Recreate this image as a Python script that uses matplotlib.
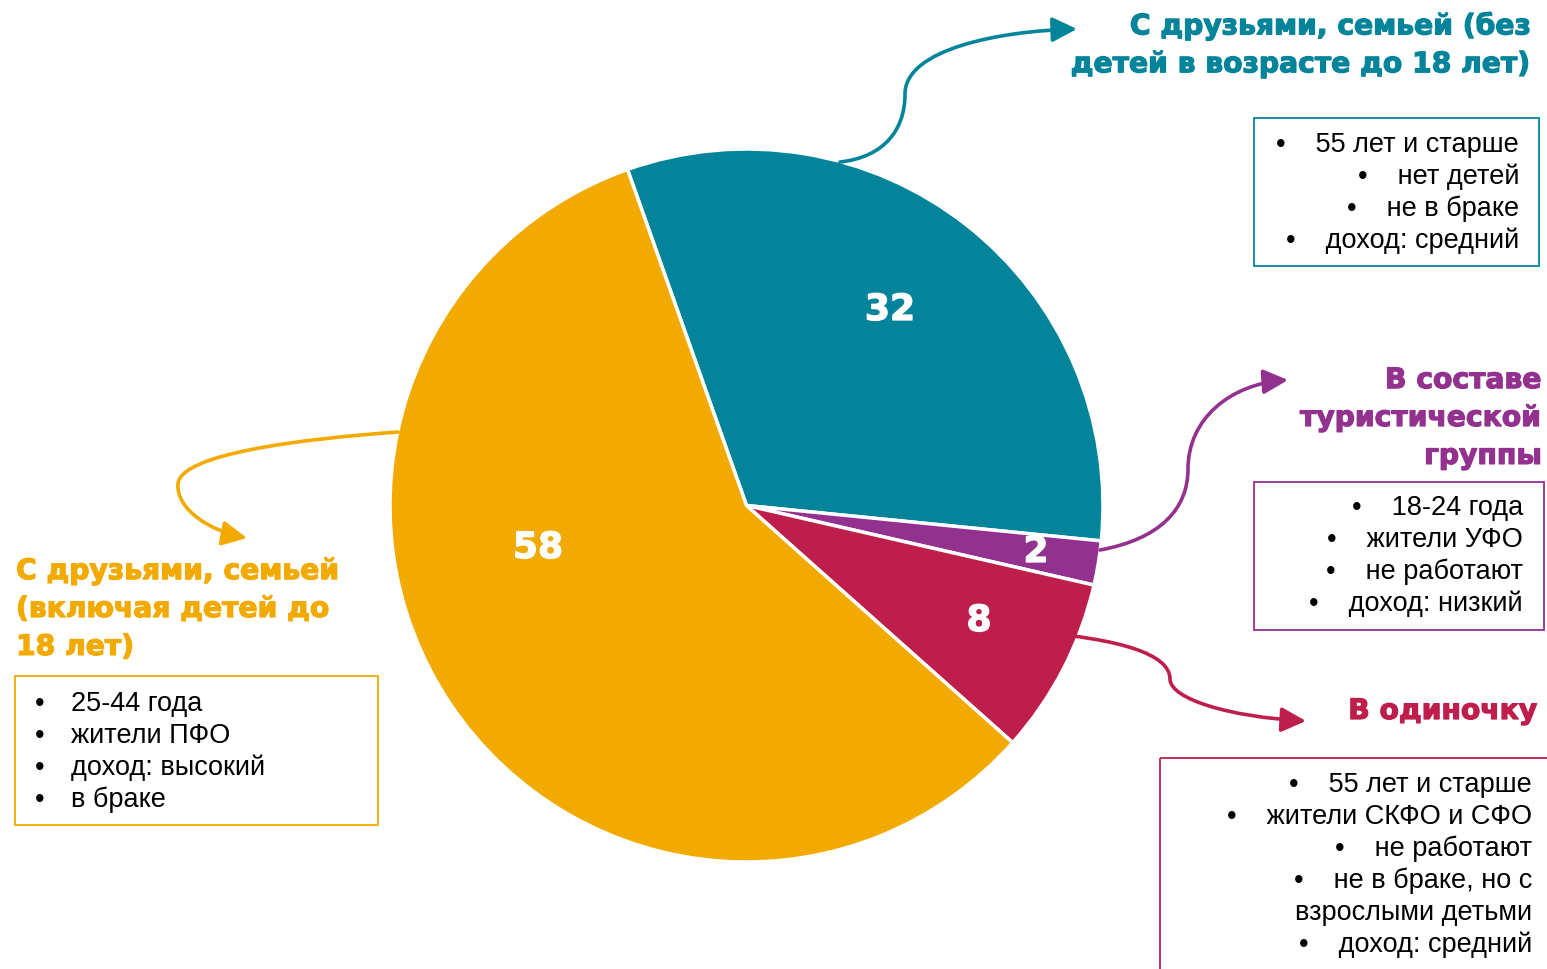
import matplotlib
matplotlib.use("Agg")
import matplotlib.pyplot as plt
import matplotlib.patheffects as pe
from matplotlib.patches import FancyArrowPatch, Rectangle
from matplotlib.path import Path

# ---- data ----
categories = [
    "С друзьями, семьей (без\nдетей в возрасте до 18 лет)",
    "В составе\nтуристической\nгруппы",
    "В одиночку",
    "С друзьями, семьей\n(включая детей до\n18 лет)",
]
values = [32, 2, 8, 58]
colors = ["#03849A", "#93318F", "#BE1E4B", "#F2A900"]

profile_teal = ["55 лет и старше", "нет детей", "не в браке", "доход: средний"]
profile_purple = ["18-24 года", "жители УФО", "не работают", "доход: низкий"]
profile_red = ["55 лет и старше", "жители СКФО и СФО", "не работают",
               "не в браке, но с", "взрослыми детьми", "доход: средний"]
profile_red_bullets = [True, True, True, True, False, True]
profile_yellow = ["25-44 года", "жители ПФО", "доход: высокий", "в браке"]

W, H = 1547, 970
fig = plt.figure(figsize=(W / 100, H / 100), dpi=100)

# pie axes: circle spans x 390..1103, y 150..863 (pixels from top)
cx, cy, R = 746.5, 506.5, 356.5
pax = fig.add_axes([(cx - R) / W, (H - cy - R) / H, 2 * R / W, 2 * R / H])
wedges, _ = pax.pie(values, colors=colors, startangle=109.5, counterclock=False,
                    radius=1.0, wedgeprops=dict(edgecolor="white", linewidth=2.5))
pax.set_xlim(-1, 1)
pax.set_ylim(-1, 1)
pax.set_aspect("equal")
pax.axis("off")

# overlay axes in pixel coordinates
ax = fig.add_axes([0, 0, 1, 1], zorder=5)
ax.set_xlim(0, W)
ax.set_ylim(H, 0)
ax.axis("off")
ax.patch.set_alpha(0)

body_font = "Liberation Sans"
title_font = "DejaVu Sans"
title_size = 20.3
body_size = 19.5
tls = 1.45

def heavy(c):
    return [pe.withStroke(linewidth=0.9, foreground=c)]

# value labels
val_pos = [(890, 311), (1036, 553), (979, 622), (538, 549)]
for v, (x, y) in zip(values, val_pos):
    ax.text(x, y, str(v), color="white", fontsize=26, fontweight="bold",
            family=title_font, ha="center", va="center", path_effects=heavy("white"))

# titles
title_pos = [(1532, 46, "right"), (1542, 419, "right"), (1538, 712, "right"), (16, 610, "left")]
for t, c, (x, y, ha) in zip(categories, colors, title_pos):
    ax.text(x, y, t, color=c, fontsize=title_size, fontweight="bold",
            family=title_font, ha=ha, va="center", linespacing=tls,
            path_effects=heavy(c))

# boxes
def box(x0, y0, x1, y1, c):
    ax.add_patch(Rectangle((x0, y0), x1 - x0, y1 - y0, fill=False, edgecolor=c,
                           linewidth=1.3, clip_on=False))

box(1254, 119, 1539, 267, colors[0])
box(1254, 483, 1544, 631, colors[1])
box(1160, 759, 1560, 990, colors[2])
box(15, 677, 378, 826, colors[3])

def right_list(items, xr, y0, dy, bullets=None):
    for i, t in enumerate(items):
        b = True if bullets is None else bullets[i]
        s = ("•    " + t) if b else t
        ax.text(xr, y0 + i * dy, s, fontsize=body_size, family=body_font,
                ha="right", va="center", color="black")

right_list(profile_teal, 1519, 145, 32)
right_list(profile_purple, 1523, 508, 32)
right_list(profile_red, 1532, 785, 32, profile_red_bullets)

for i, t in enumerate(profile_yellow):
    y = 704 + i * 32
    ax.text(40, y, "•", fontsize=body_size, family=body_font, ha="center", va="center")
    ax.text(71, y, t, fontsize=body_size, family=body_font, ha="left", va="center")

# curved arrows
def curve(pts, c):
    codes = [Path.MOVETO] + [Path.CURVE4] * (len(pts) - 1)
    p = Path(pts, codes)
    a = FancyArrowPatch(path=p, arrowstyle="-|>,head_length=15,head_width=7.5",
                        color=c, linewidth=2.6, mutation_scale=1,
                        shrinkA=0, shrinkB=0)
    ax.add_patch(a)

curve([(840, 163), (885, 158), (905, 130), (905, 95),
       (905, 50), (1000, 32), (1077, 30)], colors[0])
curve([(1100, 551), (1160, 540), (1188, 510), (1188, 470),
       (1188, 420), (1230, 385), (1288, 381)], colors[1])
curve([(1035, 633), (1120, 640), (1170, 655), (1170, 680),
       (1170, 700), (1230, 718), (1306, 722)], colors[2])
curve([(398, 433), (300, 440), (180, 455), (178, 485),
       (176, 510), (210, 532), (247, 539)], colors[3])

fig.savefig("out.png", dpi=100)
